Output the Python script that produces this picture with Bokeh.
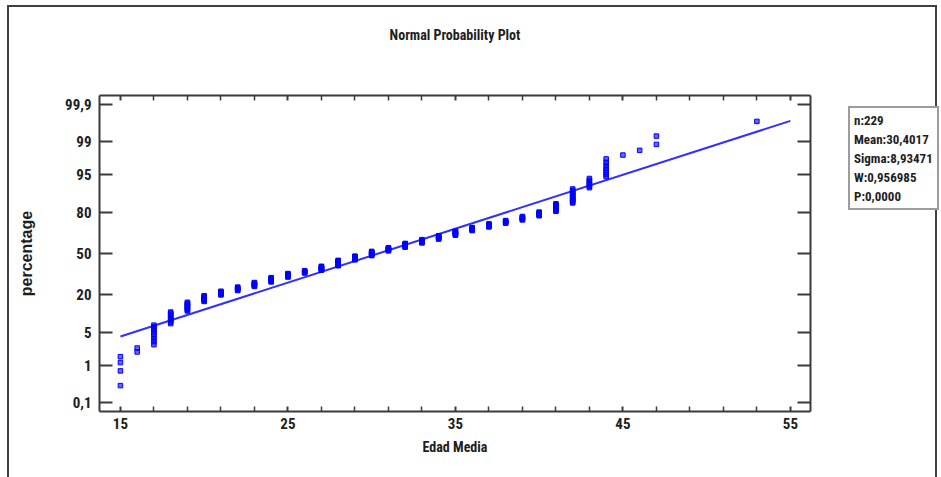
from statistics import NormalDist

from bokeh.embed import file_html
from bokeh.layouts import row
from bokeh.models import (ColumnDataSource, CustomJSTickFormatter, FixedTicker,
                          Legend, LegendItem, LinearAxis, Range1d)
from bokeh.plotting import figure
from bokeh.resources import INLINE

# ---- data -------------------------------------------------------------
ages = [15, 16, 17, 18, 19, 20, 21, 22, 23, 24, 25, 26, 27, 28, 29, 30, 31,
        32, 33, 34, 35, 36, 37, 38, 39, 40, 41, 42, 43, 44, 45, 46, 47, 53]
counts = [4, 2, 10, 10, 10, 8, 6, 6, 7, 8, 7, 5, 8, 11, 8, 9, 7,
          8, 7, 7, 8, 6, 6, 5, 6, 6, 10, 14, 7, 8, 1, 1, 2, 1]

fit_mean = 30.4017
fit_sigma = 8.93471
fit_x = [15, 55]

pct_ticks = [0.1, 1, 5, 20, 50, 80, 95, 99, 99.9]
pct_labels = ["0,1", "1", "5", "20", "50", "80", "95", "99", "99,9"]
x_major = [15, 25, 35, 45, 55]
x_minor = [17, 19, 21, 23, 27, 29, 31, 33, 37, 39, 41, 43, 47, 49, 51, 53]

stats_lines = ["n:229", "Mean:30,4017", "Sigma:8,93471", "W:0,956985", "P:0,0000"]

# ---- normal scores (median-rank plotting positions) ---------------------
nd = NormalDist()
xs = [a for a, c in zip(ages, counts) for _ in range(c)]
n = len(xs)
zs = [nd.inv_cdf((i - 0.3) / (n + 0.4)) for i in range(1, n + 1)]
pts = ColumnDataSource(dict(x=xs, z=zs))

fit_z = [(v - fit_mean) / fit_sigma for v in fit_x]
line_src = ColumnDataSource(dict(x=fit_x, z=fit_z))

z_ticks = [nd.inv_cdf(p / 100.0) for p in pct_ticks]

# ---- styling ----------------------------------------------------------
H = 477
MAIN_W, SIDE_W = 848, 93
NARROW = "'Liberation Sans Narrow', 'Arial Narrow', 'Roboto Condensed', sans-serif"
SANS = "'Liberation Sans', Arial, sans-serif"
INK = "#1e1e1e"
AXIS = "#3a3a3a"
BLUE = "#0000ff"

# thin page frame drawn behind the transparent canvas borders
rule = "linear-gradient(#404040,#404040)"
main_bg = (f"{rule} 7px 5px / 2px 600px no-repeat, "
           f"{rule} 7px 5px / {MAIN_W}px 2px no-repeat, white")
page_bg = (f"{rule} 7px 5px / 2px 600px no-repeat, "
           f"{rule} 7px 5px / 930px 2px no-repeat, "
           f"{rule} 935px 5px / 2px 600px no-repeat, white")

# ---- main plot ----------------------------------------------------------
p = figure(width=MAIN_W, height=H, output_backend="svg", toolbar_location=None,
           title=None, x_range=Range1d(13.75, 56.2), y_range=Range1d(-3.28, 3.28),
           min_border_left=99, min_border_right=MAIN_W - 810, min_border_top=95,
           min_border_bottom=66, x_axis_type=None, y_axis_type=None,
           styles={"background": main_bg})
p.grid.visible = False
p.outline_line_color = None
p.background_fill_color = "white"
p.border_fill_color = None

blank = CustomJSTickFormatter(code="return ''")


def style_axis(ax, tin, minor_in=0):
    ax.axis_line_color = AXIS
    ax.axis_line_width = 2
    ax.major_tick_line_color = AXIS
    ax.major_tick_line_width = 2
    ax.major_tick_in = tin
    ax.major_tick_out = 0
    ax.minor_tick_line_color = AXIS
    ax.minor_tick_line_width = 1.5
    ax.minor_tick_in = minor_in
    ax.minor_tick_out = 0
    ax.major_label_text_font = NARROW
    ax.major_label_text_color = INK
    ax.major_label_text_font_size = "15px"
    ax.major_label_text_font_style = "bold"
    ax.axis_label_text_color = INK
    ax.axis_label_text_font_style = "bold"


xticker = FixedTicker(ticks=x_major, minor_ticks=x_minor)
yticker = FixedTicker(ticks=z_ticks, minor_ticks=[])

bottom = LinearAxis(ticker=xticker, axis_label="Edad Media")
style_axis(bottom, 5, 5)
bottom.major_label_standoff = 6
bottom.axis_label_text_font = NARROW
bottom.axis_label_text_font_size = "14px"
bottom.axis_label_standoff = 7
p.add_layout(bottom, "below")

top = LinearAxis(ticker=xticker, formatter=blank, axis_label="Normal Probability Plot")
style_axis(top, 5, 5)
top.major_label_text_font_size = "0px"
top.major_label_standoff = 0
top.axis_label_text_font = NARROW
top.axis_label_text_font_size = "14px"
top.axis_label_standoff = 53
p.add_layout(top, "above")

left = LinearAxis(ticker=yticker, axis_label="percentage")
style_axis(left, 13)
left.major_label_standoff = 8
left.major_label_overrides = {z: s for z, s in zip(z_ticks, pct_labels)}
left.axis_label_text_font = SANS
left.axis_label_text_font_size = "16px"
left.axis_label_standoff = 27
p.add_layout(left, "left")

right = LinearAxis(ticker=yticker, formatter=blank)
style_axis(right, 13)
right.major_label_text_font_size = "0px"
right.major_label_standoff = 0
p.add_layout(right, "right")

# fitted normal line and ordered observations
p.line("x", "z", source=line_src, line_color="#3030ff", line_width=2)
p.scatter("x", "z", source=pts, marker="square", size=4.5,
          line_color=BLUE, line_width=1, fill_color=BLUE, fill_alpha=0.6)

# ---- summary statistics panel ---------------------------------------------
# (its frame lines up with the main frame: 95..411 px vertically)
side = figure(width=SIDE_W, height=H, output_backend="svg", toolbar_location=None,
              title=None, x_range=Range1d(0, SIDE_W), y_range=Range1d(0, H),
              min_border=0, x_axis_type=None, y_axis_type=None)
side.grid.visible = False
side.outline_line_color = None
side.background_fill_color = None
side.border_fill_color = None

stats = Legend(items=[LegendItem(label=s, renderers=[]) for s in stats_lines],
               location=(0, 201), orientation="vertical",
               glyph_width=0, glyph_height=16, label_standoff=0,
               label_height=16, spacing=3, padding=4, margin=0,
               label_text_font=NARROW, label_text_font_size="13px",
               label_text_font_style="bold", label_text_color=INK,
               border_line_color=AXIS, border_line_width=2,
               background_fill_color="white", background_fill_alpha=1)
side.add_layout(stats)

page = row(p, side, spacing=0, styles={"background": page_bg})
open("out.html", "w").write(file_html(page, INLINE))
